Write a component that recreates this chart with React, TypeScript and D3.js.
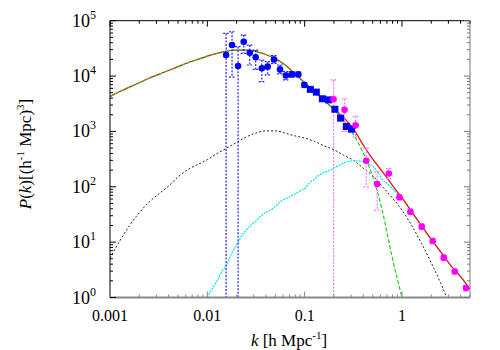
import React from 'react';
import { scaleLog, line, curveMonotoneX } from 'd3';

const width = 500;
const height = 350;
const plot = { left: 110, right: 470, top: 20.7, bottom: 297.5 };

// model curves, log10(k) grid and log10(P) values
const gridLogK = [-3.0, -2.9, -2.8, -2.7, -2.6, -2.5, -2.4, -2.3, -2.2, -2.1, -2.0, -1.9, -1.8, -1.7, -1.6, -1.5, -1.4, -1.3, -1.2, -1.1, -1.0, -0.9, -0.8, -0.7, -0.6, -0.5, -0.4, -0.3, -0.2, -0.1, 0.0, 0.1, 0.2, 0.3, 0.4, 0.5, 0.6, 0.7];
const totalLogP = [3.63, 3.72, 3.80, 3.88, 3.96, 4.03, 4.10, 4.17, 4.24, 4.30, 4.36, 4.41, 4.45, 4.47, 4.47, 4.44, 4.39, 4.31, 4.20, 4.04, 3.88, 3.72, 3.56, 3.40, 3.25, 3.05, 2.76, 2.50, 2.27, 2.03, 1.80, 1.55, 1.30, 1.05, 0.82, 0.58, 0.38, 0.15];
const linearLogK = [-3.0, -2.9, -2.8, -2.7, -2.6, -2.5, -2.4, -2.3, -2.2, -2.1, -2.0, -1.9, -1.8, -1.7, -1.6, -1.5, -1.4, -1.3, -1.2, -1.1, -1.0, -0.9, -0.8, -0.7, -0.6, -0.5, -0.4, -0.3, -0.2, -0.1, 0.0];
const linearLogP = [3.63, 3.72, 3.80, 3.88, 3.96, 4.03, 4.10, 4.17, 4.24, 4.30, 4.36, 4.41, 4.45, 4.47, 4.47, 4.44, 4.39, 4.31, 4.20, 4.04, 3.88, 3.72, 3.56, 3.39, 3.19, 2.95, 2.62, 2.18, 1.55, 0.72, 0.0];
const oneHaloLogK = [-3.0, -2.9, -2.8, -2.7, -2.6, -2.5, -2.4, -2.3, -2.2, -2.1, -2.0, -1.9, -1.8, -1.7, -1.6, -1.5, -1.4, -1.3, -1.2, -1.1, -1.0, -0.9, -0.8, -0.7, -0.6, -0.5, -0.4, -0.3, -0.2, -0.1, 0.0, 0.1, 0.2, 0.3, 0.4, 0.46];
const oneHaloLogP = [0.71, 1.02, 1.30, 1.53, 1.72, 1.87, 2.01, 2.18, 2.31, 2.40, 2.49, 2.60, 2.70, 2.80, 2.90, 2.97, 3.01, 3.01, 2.97, 2.92, 2.88, 2.82, 2.74, 2.67, 2.57, 2.48, 2.34, 2.20, 2.00, 1.80, 1.58, 1.30, 0.98, 0.63, 0.25, 0.0];
const haloLogK = [-2.0, -1.95, -1.9, -1.85, -1.8, -1.75, -1.7, -1.65, -1.6, -1.55, -1.5, -1.45, -1.4, -1.35, -1.3, -1.25, -1.2, -1.15, -1.1, -1.05, -1.0, -0.95, -0.9, -0.85, -0.8, -0.75, -0.7, -0.65, -0.6, -0.55, -0.5, -0.45, -0.4, -0.35, -0.3, -0.25, -0.2, -0.15, -0.1, -0.05, 0.0, 0.1, 0.2, 0.3, 0.4, 0.5, 0.6, 0.7];
const haloLogP = [0.0, 0.16, 0.30, 0.47, 0.60, 0.80, 0.95, 1.10, 1.22, 1.31, 1.38, 1.47, 1.54, 1.58, 1.65, 1.73, 1.78, 1.82, 1.87, 1.92, 1.97, 2.07, 2.14, 2.21, 2.26, 2.29, 2.34, 2.38, 2.43, 2.46, 2.47, 2.47, 2.45, 2.42, 2.37, 2.27, 2.13, 2.06, 1.97, 1.88, 1.80, 1.55, 1.30, 1.05, 0.82, 0.58, 0.38, 0.15];

// blue survey points: log10 k, log10 P, error top, error bottom
const blueLogK = [-1.807, -1.746, -1.684, -1.626, -1.564, -1.503, -1.44, -1.38, -1.315, -1.253, -1.192, -1.13, -1.065, -1.003];
const blueLogP = [4.38, 4.56, 4.18, 4.62, 4.42, 4.34, 4.14, 4.17, 4.30, 4.12, 4.01, 4.03, 4.03, 3.84];
const blueHi = [4.77, 4.80, 4.53, 4.74, 4.56, 4.47, 4.29, 4.26, 4.37, 4.20, 4.08, 4.08, 4.07, 3.88];
const blueLo = [-3, 3.98, -3, 4.41, 4.20, 4.12, 3.90, 4.02, 4.23, 4.04, 3.93, 3.98, 3.99, 3.80];
const squareLogK = [-0.942, -0.88, -0.818, -0.754, -0.689, -0.631, -0.572, -0.518];
const squareLogP = [3.76, 3.71, 3.59, 3.57, 3.40, 3.24, 3.09, 3.04];

// magenta points
const pinkLogK = [-0.703, -0.59, -0.477, -0.367, -0.255, -0.135, -0.026, 0.087, 0.203, 0.316, 0.429, 0.542, 0.658];
const pinkLogP = [3.58, 3.39, 3.11, 2.47, 2.05, 2.24, 1.81, 1.55, 1.28, 1.02, 0.72, 0.47, 0.17];
const pinkHi = [3.93, 3.59, 3.27, 2.70, 2.27, 2.33, 1.86, 1.60, 1.33, 1.07, 0.77, 0.52, 0.22];
const pinkLo = [-3, 3.00, 2.90, 2.00, 1.58, 2.15, 1.76, 1.50, 1.23, 0.97, 0.67, 0.42, 0.12];

const xTicks = [0.001, 0.01, 0.1, 1];
const xTickLabels = ['0.001', '0.01', '0.1', '1'];
const yTicks = [1, 10, 100, 1000, 10000, 100000];
const yTickExps = ['0', '1', '2', '3', '4', '5'];

const pow = (v: number) => Math.pow(10, v);

export default function App() {
  const x = scaleLog().domain([0.001, 5]).range([plot.left, plot.right]);
  const y = scaleLog().domain([1, 1e5]).range([plot.bottom, plot.top]);

  const path = (ks: number[], ps: number[]) =>
    line<number>()
      .x((_, i) => x(pow(ks[i])))
      .y((d) => y(pow(d)))
      .curve(curveMonotoneX)(ps) || '';

  const minorX: number[] = [];
  [0.001, 0.01, 0.1, 1].forEach((d) => {
    for (let m = 2; m <= 9; m++) if (d * m <= 5) minorX.push(d * m);
  });
  const minorY: number[] = [];
  [1, 10, 100, 1000, 10000].forEach((d) => {
    for (let m = 2; m <= 9; m++) minorY.push(d * m);
  });

  const errBar = (k: number, hi: number, lo: number, color: string, key: string) => {
    const cx = x(pow(k));
    const yt = y(pow(hi));
    const yb = Math.min(y(pow(lo)), plot.bottom);
    return (
      <g key={key} stroke={color} strokeWidth={1.2} strokeDasharray="2,1.5">
        <line x1={cx} x2={cx} y1={yt} y2={yb} />
        <line x1={cx - 3} x2={cx + 3} y1={yt} y2={yt} />
        {lo > -1 && <line x1={cx - 3} x2={cx + 3} y1={yb} y2={yb} />}
      </g>
    );
  };

  return (
    <svg width={width} height={height} style={{ position: 'absolute', left: 0, top: 0 }} fontFamily="'Liberation Serif', 'Times New Roman', serif">
      <defs>
        <clipPath id="plotclip">
          <rect x={plot.left} y={plot.top} width={plot.right - plot.left} height={plot.bottom - plot.top} />
        </clipPath>
      </defs>
      <rect width={width} height={height} fill="#fff" />

      <g clipPath="url(#plotclip)" fill="none">
        <path d={path(oneHaloLogK, oneHaloLogP)} stroke="#222" strokeWidth={1} strokeDasharray="2,2" />
        <path d={path(haloLogK, haloLogP)} stroke="#00e5ee" strokeWidth={1.2} strokeDasharray="2,1" />
        <path d={path(gridLogK, totalLogP)} stroke="#ff0000" strokeWidth={1.2} />
        <path d={path(linearLogK, linearLogP)} stroke="#22cc22" strokeWidth={1.2} strokeDasharray="4,2" />

        {blueLogK.map((k, i) => errBar(k, blueHi[i], blueLo[i], '#2020ff', 'be' + i))}
        {pinkLogK.map((k, i) => errBar(k, pinkHi[i], pinkLo[i], '#ff77ff', 'pe' + i))}

        {blueLogK.map((k, i) => (
          <circle key={'b' + i} cx={x(pow(k))} cy={y(pow(blueLogP[i]))} r={3.3} fill="#0000ff" />
        ))}
        {squareLogK.map((k, i) => (
          <rect key={'s' + i} x={x(pow(k)) - 3.5} y={y(pow(squareLogP[i])) - 3.5} width={7} height={7} fill="#0000ee" />
        ))}
        {pinkLogK.map((k, i) => (
          <circle key={'p' + i} cx={x(pow(k))} cy={y(pow(pinkLogP[i]))} r={3.3} fill="#ff00ff" />
        ))}
      </g>

      {/* frame */}
      <line x1={plot.left} x2={plot.right} y1={plot.top} y2={plot.top} stroke="#000" />
      <line x1={plot.left} x2={plot.left} y1={plot.top} y2={plot.bottom} stroke="#000" />
      <line x1={plot.right} x2={plot.right} y1={plot.top} y2={plot.bottom} stroke="#777" />
      <line x1={plot.left} x2={plot.right} y1={plot.bottom} y2={plot.bottom} stroke="#888" strokeWidth={2} />

      {/* x ticks */}
      {xTicks.map((t) => (
        <g key={'xt' + t}>
          <line x1={x(t)} x2={x(t)} y1={plot.bottom} y2={plot.bottom - 6} stroke="#888" />
          <line x1={x(t)} x2={x(t)} y1={plot.top} y2={plot.top + 6} stroke="#000" />
        </g>
      ))}
      {minorX.map((t) => (
        <g key={'xm' + t}>
          <line x1={x(t)} x2={x(t)} y1={plot.bottom} y2={plot.bottom - 3} stroke="#888" />
          <line x1={x(t)} x2={x(t)} y1={plot.top} y2={plot.top + 3} stroke="#000" />
        </g>
      ))}
      {/* y ticks */}
      {yTicks.map((t) => (
        <g key={'yt' + t}>
          <line x1={plot.left} x2={plot.left + 6} y1={y(t)} y2={y(t)} stroke="#000" />
          <line x1={plot.right} x2={plot.right - 6} y1={y(t)} y2={y(t)} stroke="#777" />
        </g>
      ))}
      {minorY.map((t) => (
        <g key={'ym' + t}>
          <line x1={plot.left} x2={plot.left + 3} y1={y(t)} y2={y(t)} stroke="#000" />
          <line x1={plot.right} x2={plot.right - 3} y1={y(t)} y2={y(t)} stroke="#777" />
        </g>
      ))}

      {/* tick labels */}
      {xTicks.map((t, i) => (
        <text key={'xl' + t} x={x(t)} y={321} fontSize={16} textAnchor="middle" fill="#000">
          {xTickLabels[i]}
        </text>
      ))}
      {yTicks.map((t, i) => (
        <text key={'yl' + t} x={96} y={y(t) + 6} fontSize={18} textAnchor="end" fill="#000">
          10
          <tspan fontSize={12} dy={-8}>{yTickExps[i]}</tspan>
        </text>
      ))}

      {/* axis titles */}
      <text x={289} y={346} fontSize={17} textAnchor="middle" fill="#000">
        <tspan fontStyle="italic">k</tspan> [h Mpc
        <tspan fontSize={11} dy={-7}>-1</tspan>
        <tspan dy={7}>]</tspan>
      </text>
      <text transform="translate(31,154) rotate(-90)" fontSize={17} textAnchor="middle" fill="#000">
        <tspan fontStyle="italic">P</tspan>(<tspan fontStyle="italic">k</tspan>)[(h
        <tspan fontSize={11} dy={-7}>-1</tspan>
        <tspan dy={7}> Mpc)</tspan>
        <tspan fontSize={11} dy={-7}>3</tspan>
        <tspan dy={7}>]</tspan>
      </text>
    </svg>
  );
}
